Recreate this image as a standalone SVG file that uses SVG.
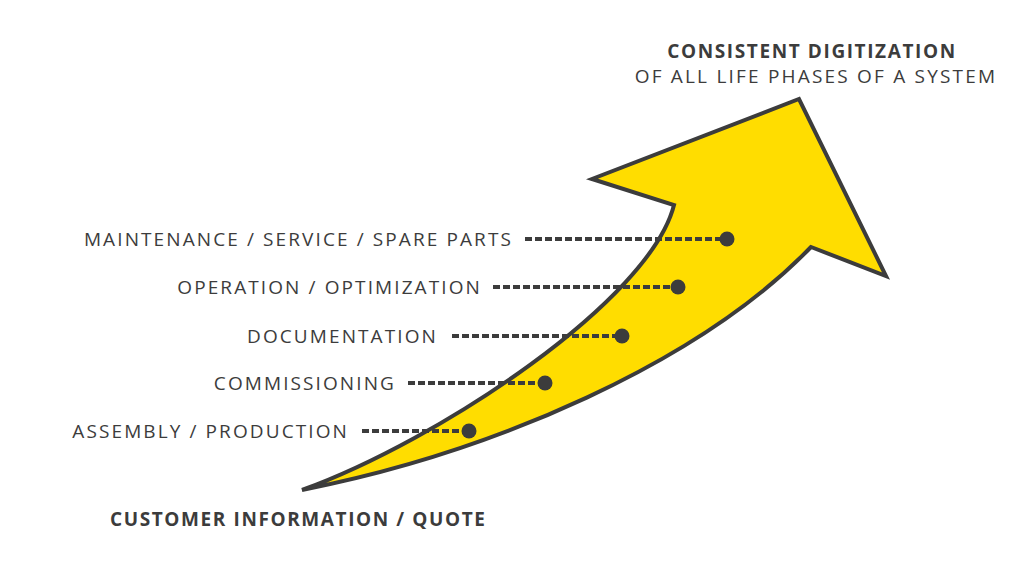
<svg xmlns="http://www.w3.org/2000/svg" width="1024" height="570" viewBox="0 0 1024 570">
<style>
.lbl{font-family:"Open Sans","Liberation Sans",sans-serif;font-size:19px;letter-spacing:2.1px;fill:#3c3c3c;text-anchor:end}
.hd{font-family:"Open Sans","Liberation Sans",sans-serif;font-size:19px;letter-spacing:1.6px;fill:#3c3c3c;font-weight:bold}
.sub{font-family:"Open Sans","Liberation Sans",sans-serif;font-size:19px;letter-spacing:2.2px;fill:#3c3c3c}
.dash{stroke:#3c3c3c;stroke-width:4;stroke-dasharray:7 3;fill:none}
.dot{fill:#3c3c3c}
</style>
<rect width="1024" height="570" fill="#ffffff"/>
<g id="arrow">
<path d="M302,490 C440,440 650,300 674,205 L592,179 L799,99 L886,276 L811,247 C700,362 495,452 302,490 Z" fill="#ffdd00" stroke="#3c3c3c" stroke-width="4" stroke-linejoin="miter"/>
</g>
<g id="connectors">
<line class="dash" x1="525" y1="239" x2="727" y2="239"/>
<line class="dash" x1="493" y1="287" x2="678" y2="287"/>
<line class="dash" x1="452" y1="336" x2="622" y2="336"/>
<line class="dash" x1="408" y1="383" x2="545" y2="383"/>
<line class="dash" x1="362" y1="431" x2="469" y2="431"/>
</g>
<g id="maintenance"><circle class="dot" cx="727" cy="239" r="7.5"/><text class="lbl" x="513" y="246">MAINTENANCE / SERVICE / SPARE PARTS</text></g>
<g id="operation"><circle class="dot" cx="678" cy="287" r="7.5"/><text class="lbl" x="482" y="294">OPERATION / OPTIMIZATION</text></g>
<g id="documentation"><circle class="dot" cx="622" cy="336" r="7.5"/><text class="lbl" x="438" y="343">DOCUMENTATION</text></g>
<g id="commissioning"><circle class="dot" cx="545" cy="383" r="7.5"/><text class="lbl" x="396" y="390">COMMISSIONING</text></g>
<g id="assembly"><circle class="dot" cx="469" cy="431" r="7.5"/><text class="lbl" x="349" y="438">ASSEMBLY / PRODUCTION</text></g>
<g id="title">
<text class="hd" x="812" y="58" text-anchor="middle">CONSISTENT DIGITIZATION</text>
<text class="sub" x="816" y="83" text-anchor="middle">OF ALL LIFE PHASES OF A SYSTEM</text>
</g>
<g id="start"><text class="hd" x="110" y="526">CUSTOMER INFORMATION / QUOTE</text></g>
</svg>
